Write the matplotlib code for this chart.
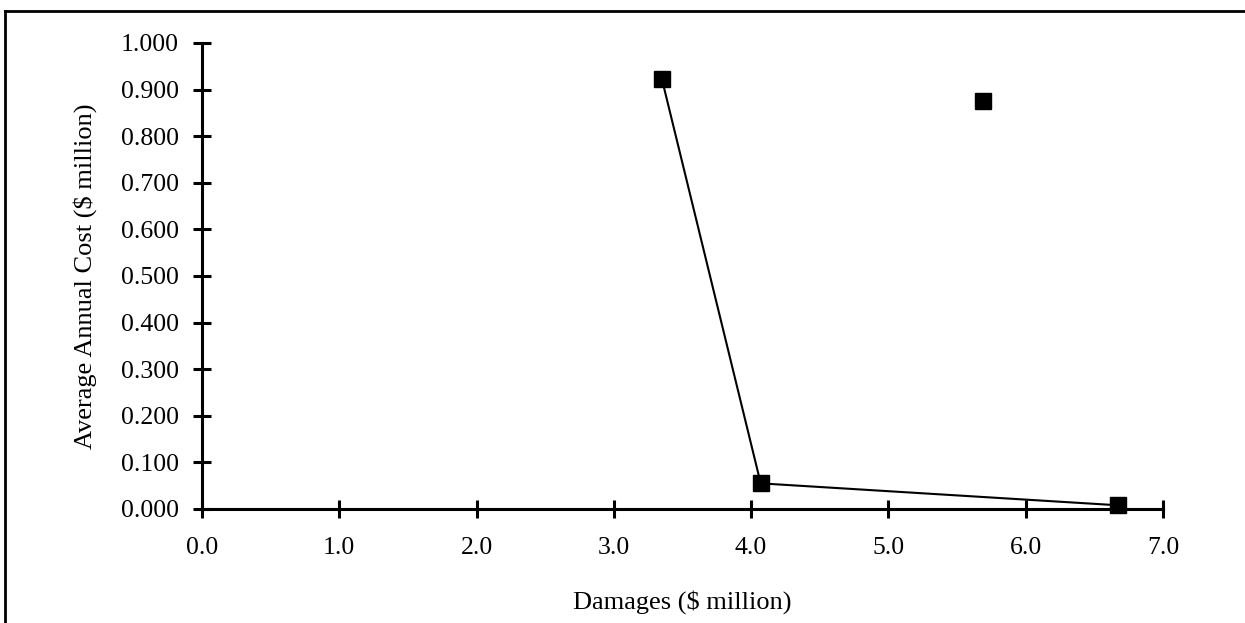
import matplotlib
matplotlib.use('Agg')
import matplotlib.pyplot as plt
from matplotlib.lines import Line2D

plt.rcParams['font.family'] = ['Liberation Serif', 'DejaVu Serif']

# connected series
damages = [3.35, 4.07, 6.67]
cost = [0.923, 0.055, 0.008]
# isolated point
damages_single = [5.69]
cost_single = [0.876]

xticks = [0, 1, 2, 3, 4, 5, 6, 7]
yticks = [0.0, 0.1, 0.2, 0.3, 0.4, 0.5, 0.6, 0.7, 0.8, 0.9, 1.0]

fig = plt.figure(figsize=(12.45, 6.23), dpi=100)
ax = fig.add_axes([0.1622, 0.183, 0.9341 - 0.1622, 0.931 - 0.183])

ax.plot(damages, cost, color='black', lw=1.5, marker='s', ms=12,
        mfc='black', mec='black', clip_on=False, zorder=3)
ax.plot(damages_single, cost_single, ls='none', marker='s', ms=12,
        color='black', clip_on=False, zorder=3)

ax.set_xlim(0, 7)
ax.set_ylim(0, 1.0)
ax.set_xticks(xticks)
ax.set_yticks(yticks)
ax.set_xticklabels(['%.1f' % v for v in xticks])
ax.set_yticklabels(['%.3f' % v for v in yticks])

for s in ['top', 'right']:
    ax.spines[s].set_visible(False)
for s in ['left', 'bottom']:
    ax.spines[s].set_linewidth(2.2)

ax.tick_params(axis='both', direction='inout', length=13, width=2.2,
               labelsize=18.5)
ax.tick_params(axis='y', pad=10)
ax.tick_params(axis='x', pad=14)

ax.set_xlabel(r'Damages (\$ million)', fontsize=19, labelpad=22)
ax.set_ylabel(r'Average Annual Cost (\$ million)', fontsize=19, labelpad=17)

# frame lines of the scanned page (top and left only)
fig.add_artist(Line2D([0.004, 1.0], [0.983, 0.983], transform=fig.transFigure,
                      color='black', lw=2))
fig.add_artist(Line2D([0.004, 0.004], [0.0, 0.983], transform=fig.transFigure,
                      color='black', lw=2))

fig.savefig('out.png', dpi=100)
